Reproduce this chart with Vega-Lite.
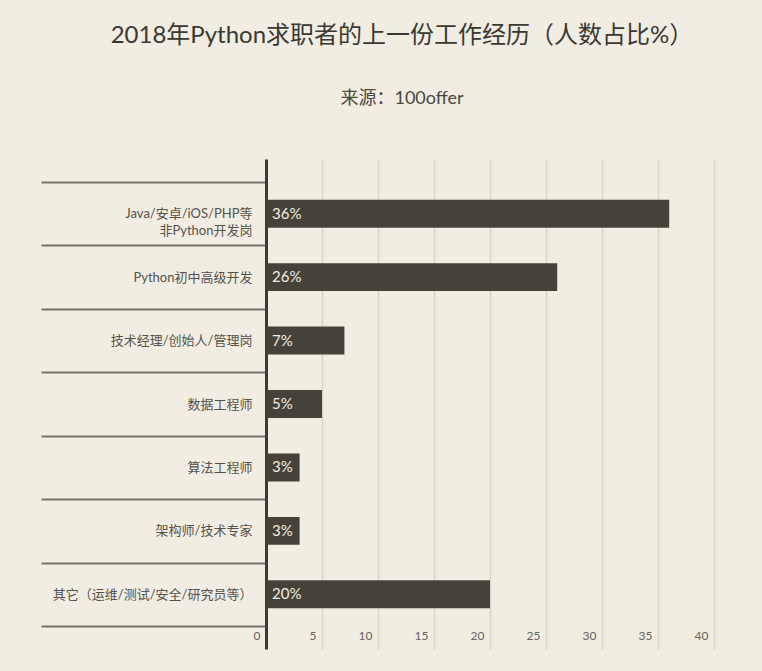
{
  "$schema": "https://vega.github.io/schema/vega-lite/v6.json",
  "width": 448,
  "height": 490,
  "autosize": {"type": "pad"},
  "padding": {"left": 40, "top": 24, "right": 48, "bottom": 26},
  "background": "#f1ede2",
  "title": {
    "text": "2018年Python求职者的上一份工作经历（人数占比%）",
    "subtitle": "来源：100offer",
    "anchor": "middle",
    "frame": "bounds",
    "dx": 25,
    "font": "Lato, Noto Sans CJK SC",
    "fontSize": 24,
    "fontWeight": "normal",
    "color": "#3a3833",
    "subtitleFont": "Lato, Noto Sans CJK SC",
    "subtitleFontSize": 18,
    "subtitleColor": "#4a4740",
    "subtitlePadding": 42,
    "offset": 45
  },
  "config": {
    "view": {"stroke": null},
    "font": "Lato, Noto Sans CJK SC"
  },
  "data": {
    "values": [
      {"cat": "Java/安卓/iOS/PHP等|非Python开发岗", "value": 36, "label": "36%"},
      {"cat": "Python初中高级开发", "value": 26, "label": "26%"},
      {"cat": "技术经理/创始人/管理岗", "value": 7, "label": "7%"},
      {"cat": "数据工程师", "value": 5, "label": "5%"},
      {"cat": "算法工程师", "value": 3, "label": "3%"},
      {"cat": "架构师/技术专家", "value": 3, "label": "3%"},
      {"cat": "其它（运维/测试/安全/研究员等）", "value": 20, "label": "20%"}
    ]
  },
  "encoding": {
    "y": {
      "field": "cat",
      "type": "nominal",
      "sort": null,
      "scale": {"paddingInner": 0, "paddingOuter": 0.363},
      "axis": {
        "title": null,
        "domain": true,
        "domainColor": "#3f3b34",
        "domainWidth": 3,
        "ticks": true,
        "tickBand": "extent",
        "tickSize": 225,
        "tickColor": "#77726a",
        "tickWidth": 2,
        "labelPadding": -211,
        "labelExpr": "isString(datum.value) ? split(datum.value, '|') : ''",
        "labelFont": "Lato, Noto Sans CJK SC",
        "labelFontSize": 13,
        "labelColor": "#55524b",
        "labelLineHeight": 17,
        "labelLimit": 260,
        "grid": false
      }
    }
  },
  "layer": [
    {
      "mark": {"type": "bar", "color": "#46423a", "height": {"band": 0.44}},
      "encoding": {
        "x": {
          "field": "value",
          "type": "quantitative",
          "scale": {"domain": [0, 40], "nice": false},
          "axis": {
            "title": null,
            "values": [0, 5, 10, 15, 20, 25, 30, 35, 40],
            "domain": false,
            "ticks": false,
            "grid": true,
            "gridColor": "#d9d4c8",
            "gridWidth": 1.5,
            "labelAlign": "right",
            "labelOffset": -6,
            "labelPadding": -19,
            "labelFontSize": 12,
            "labelColor": "#66635c",
            "labelFont": "Lato, Noto Sans CJK SC"
          }
        }
      }
    },
    {
      "mark": {"type": "text", "align": "left", "baseline": "middle", "dx": 6, "color": "#f1ede2", "fontSize": 15, "font": "Lato, Noto Sans CJK SC"},
      "encoding": {
        "x": {"datum": 0, "type": "quantitative"},
        "text": {"field": "label"}
      }
    }
  ]
}
